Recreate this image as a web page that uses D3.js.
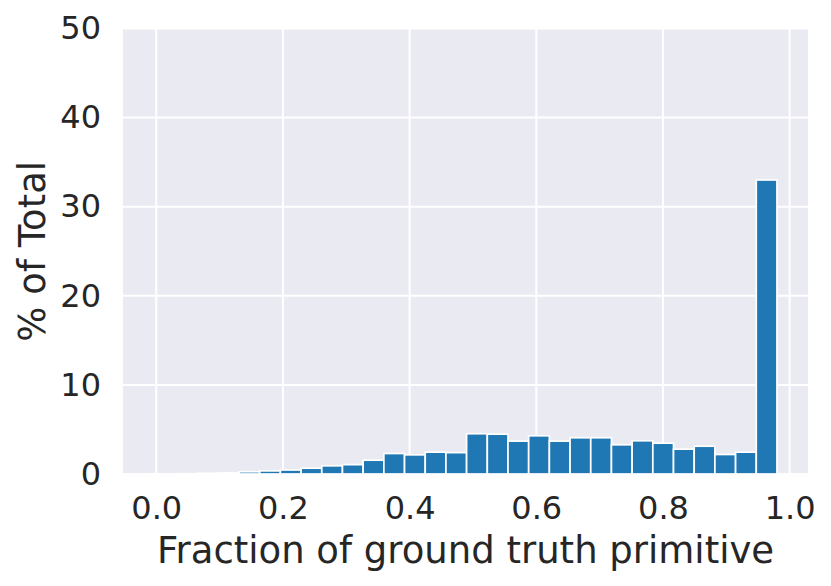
<!DOCTYPE html>
<html>
<head>
<meta charset="utf-8">
<script src="https://cdn.jsdelivr.net/npm/d3@7"></script>
<style>
  html, body { margin: 0; padding: 0; background: #ffffff; }
  svg { display: block; }
  text { font-family: "DejaVu Sans", sans-serif; fill: #262626; }
</style>
</head>
<body>
<svg id="chart" width="831" height="586"></svg>
<script>
// Histogram: 30 bins spanning 0 .. 0.98 (percent of total per bin)
const binStart = 0.0;
const binEnd = 0.98;
const percents = [
  0.0, 0.03, 0.08, 0.12, 0.25, 0.35, 0.45, 0.65, 0.92, 1.05,
  1.55, 2.3, 2.15, 2.45, 2.4, 4.52, 4.47, 3.69, 4.29, 3.69,
  4.07, 4.07, 3.28, 3.73, 3.46, 2.79, 3.12, 2.19, 2.45, 33.0
];
const xTicks = [0.0, 0.2, 0.4, 0.6, 0.8, 1.0];
const yTicks = [0, 10, 20, 30, 40, 50];
const xLabel = "Fraction of ground truth primitive";
const yLabel = "% of Total";

const svg = d3.select("#chart");
const plot = { left: 123, right: 808, top: 28.5, bottom: 474 };

const x = d3.scaleLinear().domain([-0.0525, 1.029]).range([plot.left, plot.right]);
const y = d3.scaleLinear().domain([0, 50]).range([plot.bottom, plot.top]);

const binW = (binEnd - binStart) / percents.length;
const bins = percents.map((v, i) => ({ x0: binStart + i * binW, x1: binStart + (i + 1) * binW, v }));

// background
svg.append("rect")
  .attr("x", plot.left).attr("y", plot.top)
  .attr("width", plot.right - plot.left).attr("height", plot.bottom - plot.top)
  .attr("fill", "#EAEAF2");

// grid
const g = svg.append("g");
g.selectAll(".gx").data(xTicks).join("line")
  .attr("x1", d => x(d)).attr("x2", d => x(d))
  .attr("y1", plot.top).attr("y2", plot.bottom)
  .attr("stroke", "#ffffff").attr("stroke-width", 2);
g.selectAll(".gy").data(yTicks).join("line")
  .attr("x1", plot.left).attr("x2", plot.right)
  .attr("y1", d => y(d)).attr("y2", d => y(d))
  .attr("stroke", "#ffffff").attr("stroke-width", 2);

// bars
svg.append("g").selectAll("rect").data(bins).join("rect")
  .attr("x", d => x(d.x0))
  .attr("width", d => x(d.x1) - x(d.x0))
  .attr("y", d => y(d.v))
  .attr("height", d => y(0) - y(d.v))
  .attr("fill", "#1f77b4")
  .attr("stroke", "#ffffff")
  .attr("stroke-width", 1.7);

// axes (tick labels only, seaborn darkgrid style)
const xAxis = d3.axisBottom(x).tickValues(xTicks).tickFormat(d3.format(".1f")).tickSize(0).tickPadding(22);
const xg = svg.append("g").attr("transform", `translate(0,${plot.bottom})`).call(xAxis);
xg.select(".domain").remove();
xg.selectAll("text").style("font-size", "32px").attr("fill", "#262626")
  .style("font-family", "'DejaVu Sans', sans-serif");

const yAxis = d3.axisLeft(y).tickValues(yTicks).tickFormat(d3.format("d")).tickSize(0).tickPadding(22);
const yg = svg.append("g").attr("transform", `translate(${plot.left},0)`).call(yAxis);
yg.select(".domain").remove();
yg.selectAll("text").style("font-size", "32px").attr("fill", "#262626")
  .style("font-family", "'DejaVu Sans', sans-serif");

// axis labels
svg.append("text")
  .attr("x", (plot.left + plot.right) / 2)
  .attr("y", 563)
  .attr("text-anchor", "middle")
  .style("font-size", "37px")
  .text(xLabel);

svg.append("text")
  .attr("transform", `translate(45,${(plot.top + plot.bottom) / 2}) rotate(-90)`)
  .attr("text-anchor", "middle")
  .style("font-size", "37px")
  .text(yLabel);
</script>
</body>
</html>
